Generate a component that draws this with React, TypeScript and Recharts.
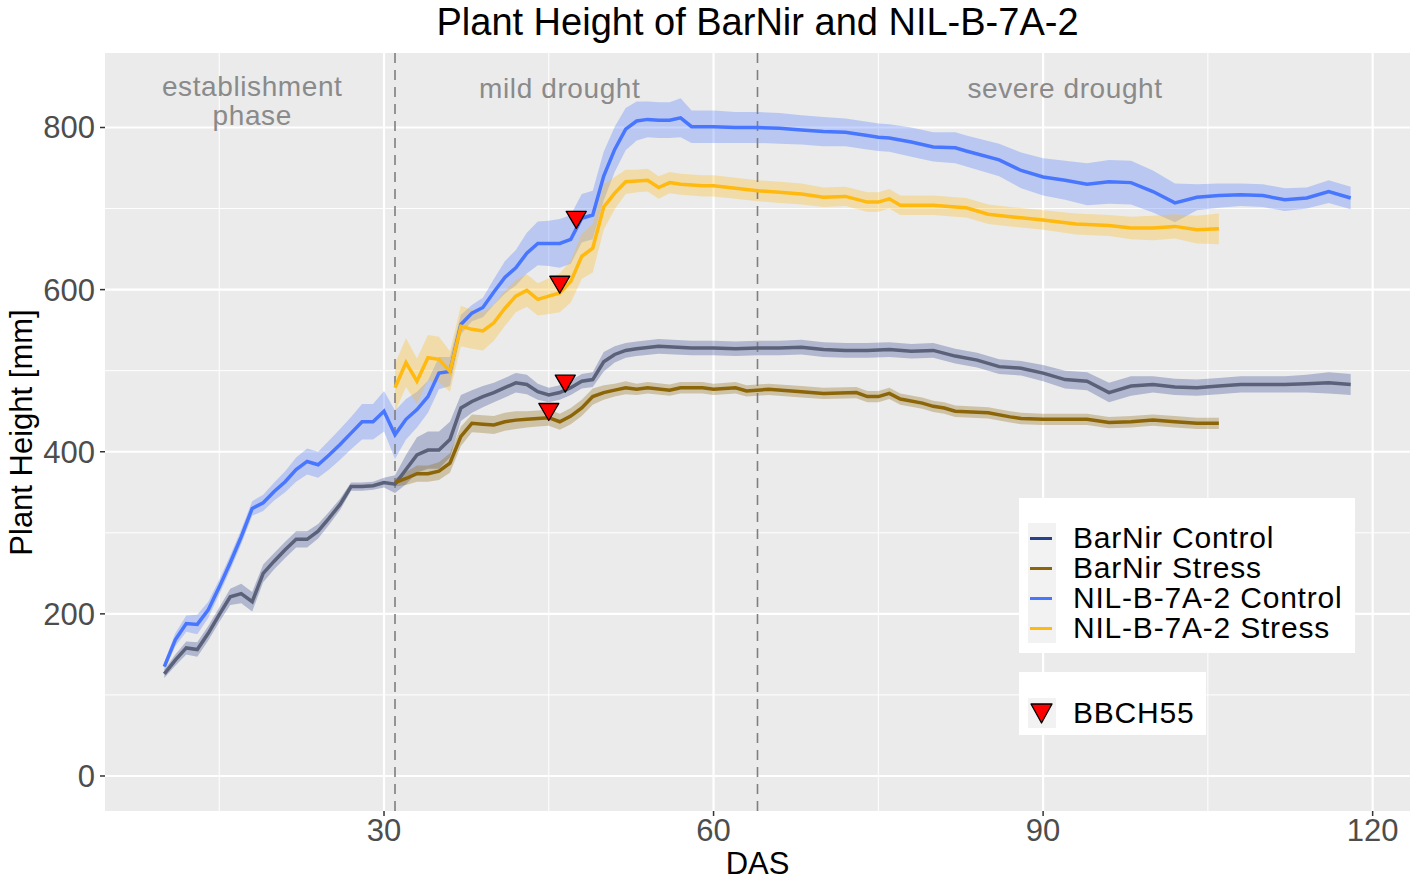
import React from 'react';
import { ComposedChart, Line, Area, Scatter, XAxis, YAxis, CartesianGrid, ReferenceLine } from 'recharts';

// ---- axes ----
const X_TICKS = [30, 60, 90, 120];
const X_MINOR = [15, 45, 75, 105];
const Y_TICKS = [0, 200, 400, 600, 800];
const Y_MINOR = [100, 300, 500, 700];
const PHASE_BOUNDS = [31, 64];

// ---- BarNir Control ----
const BC_DAS = [10, 11, 12, 13, 14, 15, 16, 17, 18, 19, 20, 21, 22, 23, 24, 25, 26, 27, 28, 29, 30, 31, 32, 33, 34, 35, 36, 37, 38, 39, 40, 41, 42, 43, 44, 45, 46, 47, 48, 49, 50, 51, 52,
  53, 55, 58, 60, 62, 64, 66, 68, 70, 72, 74, 76, 78, 80, 82, 84, 86, 88, 90, 92, 94, 96, 98, 100, 102, 104, 106, 108, 110, 112, 114, 116, 118];
const BC_MEAN = [126, 143, 158, 156, 176, 199, 221, 225, 215, 250, 265, 279, 292, 292, 302, 318, 335, 357, 357, 358, 362, 360, 378, 396, 402, 402, 415, 454, 462, 468, 473, 479, 485, 483, 474, 470, 473, 479, 487, 489, 511, 520, 525,
  527, 530, 528, 528, 527, 528, 528, 529, 526, 525, 525, 526, 524, 525, 518, 513, 505, 503, 497, 489, 487, 473, 481, 483, 480, 479, 481, 483, 483, 483, 484, 485, 483];
const BC_SE = [5, 7, 8, 9, 9, 9, 10, 12, 12, 11, 10, 10, 10, 10, 9, 8, 7, 5, 5, 5, 6, 11, 18, 22, 23, 23, 22, 16, 14, 13, 12, 12, 12, 12, 10, 9, 9, 9, 9, 9, 12, 10, 9,
  9, 9, 9, 9, 9, 9, 9, 9, 9, 9, 9, 9, 9, 9, 9, 9, 9, 9, 10, 11, 11, 12, 12, 10, 10, 10, 10, 10, 10, 10, 11, 13, 13];

// ---- BarNir Stress ----
const BS_DAS = [31, 32, 33, 34, 35, 36, 37, 38, 39, 40, 41, 42, 43, 44, 45, 46, 47, 48, 49, 50, 51, 52,
  53, 54, 56, 57, 59, 60, 62, 63, 65, 68, 70, 73, 74, 75, 76, 77, 79, 80, 81, 82, 85, 87, 88, 90, 94, 96, 98, 100, 102, 104, 106];
const BS_MEAN = [362, 367, 373, 373, 376, 386, 419, 435, 434, 433, 437, 439, 440, 441, 442, 437, 444, 454, 468, 473, 476, 479,
  477, 479, 476, 479, 479, 477, 479, 475, 477, 474, 472, 473, 468, 468, 472, 465, 460, 456, 454, 450, 448, 443, 441, 440, 440, 436, 437, 439, 437, 435, 435];
const BS_SE = [5, 8, 10, 10, 11, 12, 12, 11, 11, 11, 11, 11, 10, 10, 10, 10, 10, 10, 10, 9, 8, 8,
  7, 7, 7, 7, 7, 7, 7, 7, 7, 7, 7, 7, 7, 7, 7, 7, 7, 7, 7, 7, 7, 7, 7, 7, 7, 7, 7, 7, 7, 7, 7];

// ---- NIL-B-7A-2 Control ----
const NC_DAS = [10, 11, 12, 13, 14, 15, 16, 17, 18, 19, 20, 21, 22, 23, 24, 25, 26, 27, 28, 29, 30, 31, 32, 33, 34, 35, 36, 37, 38, 39, 40, 41, 42, 43, 44, 45, 46, 47, 48, 49, 50, 51, 52, 53, 54, 55, 56, 57, 58, 59, 60,
  62, 64, 66, 68, 70, 72, 74, 75, 76, 78, 80, 82, 83, 86, 88, 90, 92, 94, 96, 98, 100, 102, 104, 106, 108, 110, 112, 114, 116, 118];
const NC_MEAN = [135, 168, 188, 187, 205, 233, 263, 295, 330, 337, 351, 363, 378, 388, 384, 396, 409, 423, 437, 437, 450, 421, 440, 452, 468, 497, 499, 557, 571, 578, 597, 615, 627, 645, 657, 657, 657, 662, 688, 692, 740, 773, 798, 808, 810, 809, 809, 812, 801, 801, 801,
  800, 800, 799, 797, 795, 794, 790, 788, 787, 782, 776, 775, 771, 760, 747, 739, 735, 730, 733, 732, 721, 707, 714, 716, 717, 716, 711, 713, 721, 713];
const NC_SE = [5, 8, 10, 12, 10, 9, 9, 9, 9, 10, 11, 13, 15, 16, 16, 18, 19, 20, 22, 22, 25, 30, 25, 22, 20, 20, 18, 12, 10, 12, 16, 20, 22, 25, 27, 28, 30, 30, 30, 30, 30, 28, 26, 24, 22, 22, 22, 24, 20, 20, 20,
  19, 19, 19, 18, 18, 17, 17, 17, 17, 18, 18, 19, 19, 20, 22, 23, 24, 26, 27, 27, 26, 24, 16, 15, 14, 14, 14, 13, 14, 14];

// ---- NIL-B-7A-2 Stress ----
const NS_DAS = [31, 32, 33, 34, 35, 36, 37, 38, 39, 40, 41, 42, 43, 44, 45, 46, 47, 48, 49, 50, 51, 52, 53, 54, 55, 56, 57, 58, 59, 60,
  62, 64, 66, 68, 70, 72, 74, 75, 76, 77, 80, 82, 83, 85, 87, 90, 93, 96, 98, 100, 102, 104, 106];
const NS_MEAN = [479, 510, 487, 516, 514, 499, 555, 551, 549, 559, 577, 592, 599, 588, 592, 596, 610, 641, 651, 702, 719, 733, 734, 735, 726, 732, 730, 729, 728, 728,
  725, 722, 720, 718, 714, 715, 708, 708, 712, 704, 704, 702, 701, 693, 690, 686, 681, 679, 676, 676, 678, 674, 675];
const NS_SE = [30, 30, 28, 28, 28, 25, 25, 24, 24, 22, 22, 20, 20, 20, 22, 24, 26, 28, 30, 28, 20, 15, 14, 14, 14, 13, 13, 13, 13, 13,
  13, 13, 13, 13, 12, 12, 12, 12, 12, 12, 12, 12, 12, 12, 12, 12, 13, 13, 14, 15, 15, 17, 19];

// ---- BBCH55 markers ----
const BBCH_DAS = [47.5, 46.0, 46.5, 45.0];
const BBCH_VAL = [686, 606, 484, 449];

// ---- phase annotations ----
const NOTE_TEXT = ['establishment', 'phase', 'mild drought', 'severe drought'];
const NOTE_DAS = [18.0, 18.0, 46.0, 92.0];
const NOTE_VAL = [850, 815, 848, 848];

const build = (days: number[], mean: number[], se: number[]) =>
  days.map((d, i) => ({ d, v: mean[i], band: [mean[i] - se[i], mean[i] + se[i]] }));

const BC = build(BC_DAS, BC_MEAN, BC_SE);
const BS = build(BS_DAS, BS_MEAN, BS_SE);
const NC = build(NC_DAS, NC_MEAN, NC_SE);
const NS = build(NS_DAS, NS_MEAN, NS_SE);
const BBCH = BBCH_DAS.map((d, i) => ({ d, v: BBCH_VAL[i] }));
const NOTES = NOTE_DAS.map((d, i) => ({ d, v: NOTE_VAL[i], t: NOTE_TEXT[i] }));

const FONT = '"Liberation Sans", Arial, Helvetica, sans-serif';

const Triangle = (p: any) => {
  const { cx, cy } = p;
  if (cx == null || cy == null) return null;
  const w = 20, h = 17;
  return (
    <polygon
      points={`${cx - w / 2},${cy - h / 2} ${cx + w / 2},${cy - h / 2} ${cx},${cy + h / 2}`}
      fill="#FF0000"
      stroke="#000"
      strokeWidth={1.3}
      strokeLinejoin="round"
    />
  );
};

const NoteText = (p: any) => {
  const { cx, cy } = p;
  const t = (p.payload && p.payload.t) || p.t;
  return (
    <text x={cx} y={cy} textAnchor="middle" dominantBaseline="central" fill="#8a8a8a" fontSize={28} letterSpacing={0.6} fontFamily={FONT}>
      {t}
    </text>
  );
};

const LEGEND_ITEMS = [
  { label: 'BarNir Control', color: '#27408B' },
  { label: 'BarNir Stress', color: '#8B6508' },
  { label: 'NIL-B-7A-2 Control', color: '#4876FF' },
  { label: 'NIL-B-7A-2 Stress', color: '#FFB90F' },
];

export default function App() {
  return (
    <div style={{ position: 'absolute', left: 0, top: 0, width: 1417, height: 883, background: '#fff', fontFamily: FONT, overflow: 'hidden' }}>
      <ComposedChart width={1417} height={883} margin={{ top: 53, right: 7, bottom: 0, left: 0 }}>
        <CartesianGrid
          fill="#EBEBEB"
          stroke="#FFFFFF"
          strokeWidth={1}
          horizontalValues={Y_MINOR}
          verticalValues={X_MINOR}
        />
        <CartesianGrid
          stroke="#FFFFFF"
          strokeWidth={2.2}
          horizontalValues={Y_TICKS}
          verticalValues={X_TICKS}
        />
        <XAxis
          dataKey="d"
          type="number"
          domain={[4.6, 123.4]}
          allowDataOverflow
          ticks={X_TICKS}
          height={72}
          axisLine={false}
          tickSize={5}
          tickMargin={3}
          tickLine={{ stroke: '#333333', strokeWidth: 1.5 }}
          tick={{ fill: '#4D4D4D', fontSize: 31, fontFamily: FONT }}
        />
        <YAxis
          dataKey="v"
          type="number"
          domain={[-43.2, 891.9]}
          allowDataOverflow
          ticks={Y_TICKS}
          width={105}
          axisLine={false}
          tickSize={5}
          tickMargin={5}
          tickLine={{ stroke: '#333333', strokeWidth: 1.5 }}
          tick={{ fill: '#4D4D4D', fontSize: 31, fontFamily: FONT }}
        />
        {PHASE_BOUNDS.map((x) => (
          <ReferenceLine key={x} x={x} stroke="#7F7F7F" strokeWidth={1.6} strokeDasharray="10 7" />
        ))}
        <Area data={BC} dataKey="band" type="linear" stroke="none" fill="#27408B" fillOpacity={0.3} isAnimationActive={false} activeDot={false} />
        <Area data={BS} dataKey="band" type="linear" stroke="none" fill="#8B6508" fillOpacity={0.3} isAnimationActive={false} activeDot={false} />
        <Area data={NC} dataKey="band" type="linear" stroke="none" fill="#4876FF" fillOpacity={0.3} isAnimationActive={false} activeDot={false} />
        <Area data={NS} dataKey="band" type="linear" stroke="none" fill="#FFB90F" fillOpacity={0.3} isAnimationActive={false} activeDot={false} />
        <Line data={BC} dataKey="v" type="linear" stroke="#5A6178" strokeWidth={3.5} dot={false} activeDot={false} isAnimationActive={false} />
        <Line data={BS} dataKey="v" type="linear" stroke="#8B6508" strokeWidth={3.5} dot={false} activeDot={false} isAnimationActive={false} />
        <Line data={NC} dataKey="v" type="linear" stroke="#4876FF" strokeWidth={3.5} dot={false} activeDot={false} isAnimationActive={false} />
        <Line data={NS} dataKey="v" type="linear" stroke="#FFB90F" strokeWidth={3.5} dot={false} activeDot={false} isAnimationActive={false} />
        <Scatter data={BBCH} dataKey="v" shape={Triangle} isAnimationActive={false} />
        <Scatter data={NOTES} dataKey="v" shape={NoteText} isAnimationActive={false} />
      </ComposedChart>

      {/* title */}
      <div style={{ position: 'absolute', left: 105, width: 1305, top: 3, fontSize: 38, lineHeight: '38px', textAlign: 'center', color: '#000' }}>
        Plant Height of BarNir and NIL-B-7A-2
      </div>
      {/* x title */}
      <div style={{ position: 'absolute', left: 105, width: 1305, top: 848, fontSize: 31, lineHeight: '31px', textAlign: 'center', color: '#000' }}>
        DAS
      </div>
      {/* y title */}
      <div
        style={{
          position: 'absolute', left: 21 - 200, top: 432 - 15.5, width: 400, height: 31,
          fontSize: 31, lineHeight: '31px', textAlign: 'center', color: '#000',
          transform: 'rotate(-90deg)', transformOrigin: '50% 50%', whiteSpace: 'nowrap',
        }}
      >
        Plant Height [mm]
      </div>

      {/* legend 1 */}
      <div style={{ position: 'absolute', left: 1019, top: 498, width: 336, height: 155, background: '#fff' }} />
      <div style={{ position: 'absolute', left: 1028, top: 523, width: 28, height: 120, background: '#F2F2F2' }} />
      {LEGEND_ITEMS.map((it, i) => (
        <React.Fragment key={it.label}>
          <div style={{ position: 'absolute', left: 1030, top: 536.5 + i * 30, width: 22, height: 3, background: it.color }} />
          <div style={{ position: 'absolute', left: 1073, top: 523 + i * 30, height: 30, fontSize: 30, lineHeight: '30px', letterSpacing: 0.8, color: '#000', whiteSpace: 'nowrap' }}>
            {it.label}
          </div>
        </React.Fragment>
      ))}

      {/* legend 2 */}
      <div style={{ position: 'absolute', left: 1019, top: 672, width: 187, height: 63, background: '#fff' }} />
      <div style={{ position: 'absolute', left: 1028, top: 698, width: 28, height: 30, background: '#F2F2F2' }} />
      <svg style={{ position: 'absolute', left: 1028, top: 698 }} width={28} height={30}>
        <polygon points="3,6 24,6 13.5,25" fill="#FF0000" stroke="#000" strokeWidth={1.3} strokeLinejoin="round" />
      </svg>
      <div style={{ position: 'absolute', left: 1073, top: 698, height: 30, fontSize: 30, lineHeight: '30px', letterSpacing: 0.8, color: '#000', whiteSpace: 'nowrap' }}>
        BBCH55
      </div>
    </div>
  );
}
